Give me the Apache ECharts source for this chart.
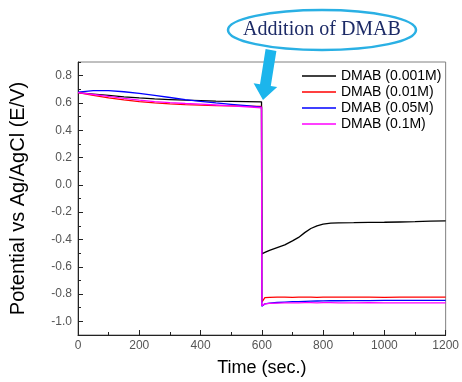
<!DOCTYPE html>
<html>
<head>
<meta charset="utf-8">
<script src="https://cdn.jsdelivr.net/npm/echarts@6/dist/echarts.min.js"></script>
<style>
  html, body { margin: 0; padding: 0; background: #fff; }
  #chart { width: 462px; height: 382px; }
</style>
</head>
<body>
<div id="chart"></div>
<script>
// time (sec.) shared by all curves
const timeSec = [0, 50, 100, 150, 200, 250, 300, 350, 400, 450, 500, 550, 599,
  600, 610, 625, 650, 675, 700, 720, 740, 760, 780, 800, 825, 850, 900, 950, 1000, 1050, 1100, 1150, 1200];

const dmab0001 = [0.675, 0.665, 0.655, 0.645, 0.637, 0.630, 0.625, 0.620, 0.617, 0.614, 0.612, 0.610, 0.608,
  -0.505, -0.495, -0.48, -0.46, -0.44, -0.41, -0.385, -0.35, -0.32, -0.30, -0.288, -0.281, -0.278, -0.277, -0.275, -0.274, -0.272, -0.27, -0.266, -0.264];
const dmab001 = [0.675, 0.655, 0.637, 0.622, 0.609, 0.600, 0.593, 0.588, 0.584, 0.581, 0.579, 0.577, 0.575,
  -0.86, -0.826, -0.824, -0.823, -0.822, -0.824, -0.823, -0.822, -0.823, -0.824, -0.822, -0.823, -0.823, -0.822, -0.823, -0.824, -0.823, -0.822, -0.823, -0.823];
const dmab005 = [0.680, 0.690, 0.690, 0.682, 0.670, 0.655, 0.640, 0.625, 0.612, 0.600, 0.590, 0.580, 0.570,
  -0.89, -0.872, -0.866, -0.862, -0.859, -0.856, -0.855, -0.853, -0.852, -0.851, -0.850, -0.849, -0.849, -0.848, -0.848, -0.847, -0.847, -0.847, -0.847, -0.847];
const dmab01 = [0.675, 0.662, 0.648, 0.633, 0.620, 0.610, 0.602, 0.596, 0.591, 0.585, 0.578, 0.572, 0.565,
  -0.885, -0.872, -0.868, -0.866, -0.865, -0.864, -0.864, -0.863, -0.863, -0.864, -0.863, -0.863, -0.864, -0.864, -0.863, -0.864, -0.865, -0.864, -0.865, -0.865];

const seriesNames = ['DMAB (0.001M)', 'DMAB (0.01M)', 'DMAB (0.05M)', 'DMAB (0.1M)'];
const seriesColors = ['#000000', '#ff0000', '#0000ff', '#ff00ff'];
const seriesData = [dmab0001, dmab001, dmab005, dmab01];

const yMajor = [-1.0, -0.8, -0.6, -0.4, -0.2, 0.0, 0.2, 0.4, 0.6, 0.8];
const yMinor = [-1.1, -0.9, -0.7, -0.5, -0.3, -0.1, 0.1, 0.3, 0.5, 0.7, 0.9];

const chart = echarts.init(document.getElementById('chart'));
const font = 'Liberation Sans, Arial, sans-serif';

const option = {
  animation: false,
  grid: {
    left: 78, right: 13, top: 62, bottom: 47,
    show: true, borderColor: '#808080', borderWidth: 1, backgroundColor: 'transparent'
  },
  legend: {
    orient: 'vertical',
    left: 297, top: 64,
    icon: 'rect',
    itemWidth: 34, itemHeight: 1.5, itemGap: 2,
    data: seriesNames,
    textStyle: { fontFamily: font, fontSize: 14, color: '#000' }
  },
  xAxis: {
    type: 'value', min: 0, max: 1200, interval: 200,
    name: 'Time (sec.)', nameLocation: 'middle', nameGap: 24,
    nameTextStyle: { fontFamily: font, fontSize: 18, color: '#000' },
    axisLine: { onZero: false, lineStyle: { color: '#222', width: 1 } },
    axisTick: { inside: true, length: 5, lineStyle: { color: '#222' } },
    minorTick: { show: true, splitNumber: 2, length: 3, lineStyle: { color: '#222' } },
    axisLabel: { formatter: v => String(v), fontFamily: font, fontSize: 12, color: '#555', margin: 5 },
    splitLine: { show: false },
    minorSplitLine: { show: false }
  },
  yAxis: [{
    type: 'value', min: -1.1, max: 0.9, position: 'left',
    name: 'Potential vs Ag/AgCl (E/V)', nameLocation: 'middle', nameGap: 50,
    nameTextStyle: { fontFamily: font, fontSize: 20, color: '#000' },
    axisLine: { show: true, onZero: false, lineStyle: { color: '#222', width: 1 } },
    axisTick: { inside: true, length: 5, customValues: yMajor, lineStyle: { color: '#222' } },
    axisLabel: { customValues: yMajor, formatter: v => v.toFixed(1), fontFamily: font, fontSize: 12, color: '#555', margin: 6 },
    splitLine: { show: false }
  }, {
    type: 'value', min: -1.1, max: 0.9, position: 'left',
    axisLine: { show: false, onZero: false },
    axisTick: { show: true, inside: true, length: 3, customValues: yMinor, lineStyle: { color: '#222' } },
    axisLabel: { show: false },
    splitLine: { show: false }
  }],
  series: seriesNames.map((name, i) => ({
    name,
    type: 'line',
    yAxisIndex: 0,
    data: timeSec.map((t, j) => [t, seriesData[i][j]]),
    showSymbol: false,
    symbol: 'none',
    lineStyle: { color: seriesColors[i], width: 1.3 },
    itemStyle: { color: seriesColors[i] }
  })),
  graphic: [
    {
      type: 'polygon', z: 100,
      shape: { points: [[265.6, 49.1], [276.4, 50.9], [270.8, 86.1], [277.2, 87.1], [263, 100], [253.6, 83.3], [260.0, 84.3]] },
      style: { fill: '#1cb5ec' }
    },
    {
      type: 'ellipse', z: 101,
      shape: { cx: 322, cy: 30, rx: 94, ry: 20 },
      style: { fill: '#fff', stroke: '#2ab0e4', lineWidth: 2.5 }
    },
    {
      type: 'text', z: 102, x: 322, y: 30,
      style: {
        text: 'Addition of DMAB', fill: '#1c2a66',
        font: '20px "Liberation Serif", "Times New Roman", serif',
        textAlign: 'center', textVerticalAlign: 'middle'
      }
    }
  ]
};

chart.setOption(option);
</script>
</body>
</html>
